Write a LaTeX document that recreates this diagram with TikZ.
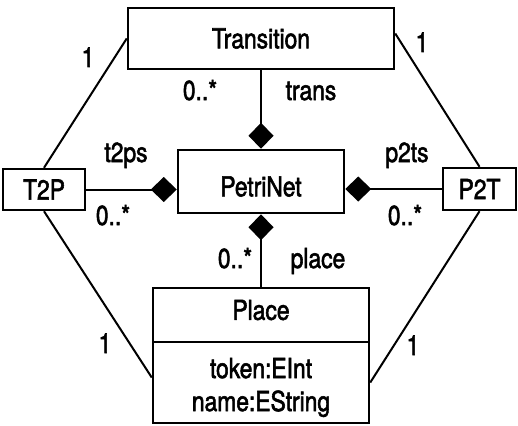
\documentclass[tikz,border=0pt]{standalone}
\usepackage{fontspec}
\setmainfont{TeX Gyre Heros}[FakeStretch=0.83,FakeBold=2]
\usetikzlibrary{arrows.meta}
% move a line of text vertically without changing the space it takes
\newcommand\shiftdown[2]{\raisebox{-#1}[\height][\depth]{#2}}
\begin{document}
\begin{tikzpicture}[x=1pt,y=-1pt,
  font=\fontsize{27.5}{33}\selectfont,
  umlbox/.style={draw,line width=2.5pt,inner sep=0pt,align=center},
  assoc/.style={line width=2pt},
  compos/.style={line width=2pt,-{Diamond[length=26pt,width=25pt]}},
  mult/.style={anchor=base,inner sep=0pt}]
\useasboundingbox (0,0) rectangle (518,425);

% classes
\node[umlbox,minimum width=266pt,minimum height=61pt] (Transition) at (261,38.5) {Transition};
\node[umlbox,minimum width=166pt,minimum height=63pt] (PetriNet) at (261,181.5) {\shiftdown{5pt}{PetriNet}};
\node[umlbox,minimum width=82pt,minimum height=41pt] (T2P) at (44,189.5) {T2P};
\node[umlbox,minimum width=73pt,minimum height=42pt] (P2T) at (479.5,189) {P2T};
\node[umlbox,minimum width=216pt,minimum height=54pt] (Place) at (261,315) {\shiftdown{-5pt}{Place}};
\node[umlbox,minimum width=216pt,minimum height=81pt] (PlaceAttr) at (261,382.5)
  {\shiftdown{5pt}{token:EInt}\\\shiftdown{5pt}{name:EString}};

% composition links into PetriNet
\draw[compos] (Transition.south) -- (PetriNet.north);
\draw[compos] (Place.north) -- (PetriNet.south);
\draw[compos] (T2P.east) -- (T2P.east -| PetriNet.west);
\draw[compos] (P2T.west) -- (P2T.west -| PetriNet.east);

% plain associations
\draw[assoc] (Transition.west) -- (T2P.north);
\draw[assoc] ([yshift=5pt]Transition.east) -- (P2T.north);
\draw[assoc] (T2P.south) -- ([yshift=5pt]PlaceAttr.west);
\draw[assoc] (P2T.south) -- (PlaceAttr.east);

% role names and multiplicities
\node[mult] (m1) at (88,67) {1};
\node[mult] (m2) at (422,52) {1};
\node[mult] (m3) at (200,100) {0..*};
\node[mult] (r1) at (311,100) {trans};
\node[mult] (r2) at (126,162) {t2ps};
\node[mult] (m4) at (113,225) {0..*};
\node[mult] (r3) at (407,162) {p2ts};
\node[mult] (m5) at (405,225) {0..*};
\node[mult] (m6) at (235,268) {0..*};
\node[mult] (r4) at (318,268) {place};
\node[mult] (m7) at (105,353) {1};
\node[mult] (m8) at (413,355) {1};
\end{tikzpicture}
\end{document}
